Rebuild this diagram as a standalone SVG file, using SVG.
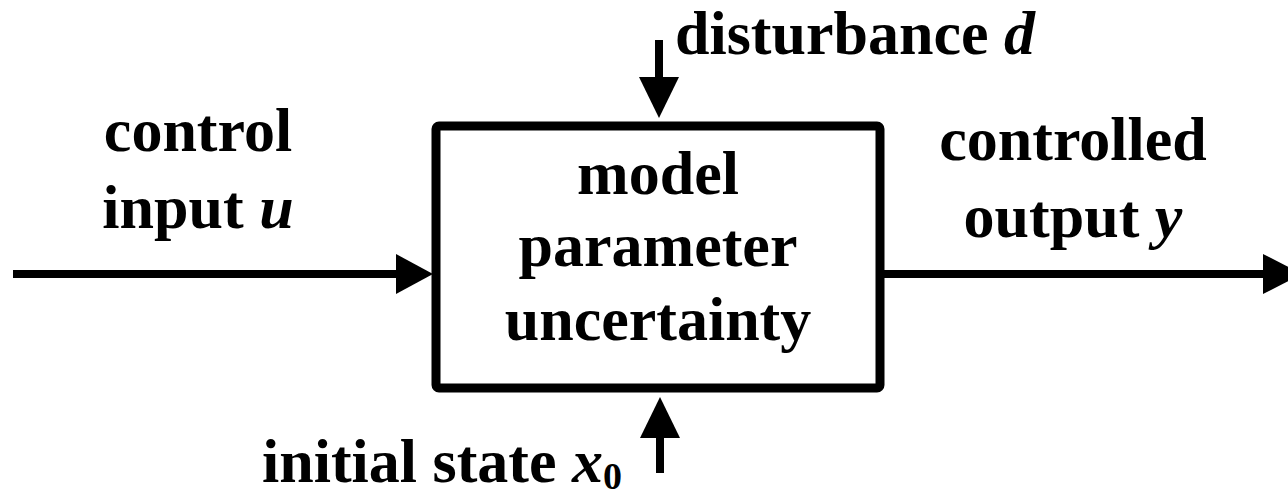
<svg xmlns="http://www.w3.org/2000/svg" width="1288" height="498" viewBox="0 0 1288 498">
<style>
text{font-family:"Liberation Serif","Times New Roman",serif;font-weight:bold;font-size:62px;fill:#000}
.i{font-style:italic}
.ln{stroke:#000;stroke-width:8;fill:none}
.hd{fill:#000}
</style>
<rect width="1288" height="498" fill="#fff"/>
<g id="connectors">
<line class="ln" x1="13" y1="274" x2="400" y2="274"/>
<polygon class="hd" points="396,254 433,274 396,294"/>
<line class="ln" x1="880" y1="274" x2="1266" y2="274"/>
<polygon class="hd" points="1263,254 1302,274 1263,294"/>
<line class="ln" x1="659" y1="40" x2="659" y2="80"/>
<polygon class="hd" points="639,77 679,77 659,118"/>
<line class="ln" x1="660" y1="473" x2="660" y2="435"/>
<polygon class="hd" points="640,438 680,438 660,397"/>
</g>
<g id="system">
<rect x="436" y="126" width="444" height="262" rx="3" fill="none" stroke="#000" stroke-width="9"/>
<text x="658" y="194" text-anchor="middle">model</text>
<text x="658" y="266" text-anchor="middle">parameter</text>
<text x="658" y="340" text-anchor="middle">uncertainty</text>
</g>
<g id="input-label">
<text x="198" y="151" text-anchor="middle">control</text>
<text x="198" y="228" text-anchor="middle">input <tspan class="i">u</tspan></text>
</g>
<g id="output-label">
<text x="1073" y="160" text-anchor="middle">controlled</text>
<text x="1073" y="237" text-anchor="middle">output <tspan class="i">y</tspan></text>
</g>
<g id="disturbance-label">
<text x="675" y="54">disturbance <tspan class="i">d</tspan></text>
</g>
<g id="initial-label">
<text x="262" y="482">initial state <tspan class="i">x</tspan><tspan font-size="38" dy="7">0</tspan></text>
</g>
</svg>
